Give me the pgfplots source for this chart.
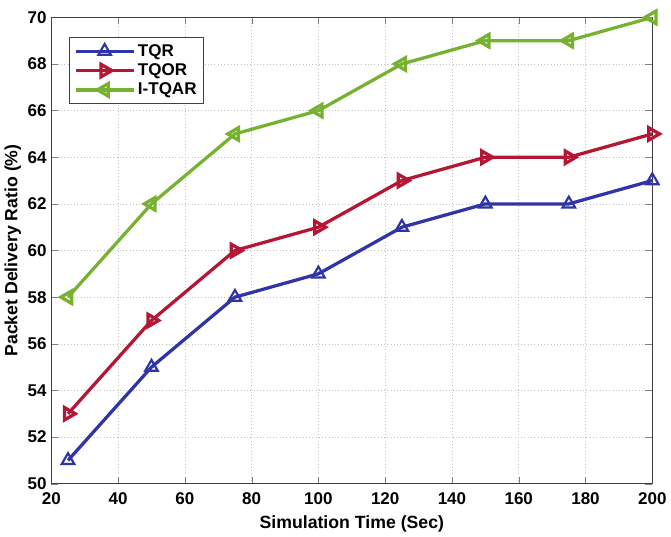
\documentclass[border=0pt]{standalone}
\usepackage{pgfplots}
\pgfplotsset{compat=1.18}
\usepackage{fontspec}
\setmainfont{Liberation Sans}
\definecolor{tqrblue}{RGB}{48,52,168}
\definecolor{tqorred}{RGB}{180,22,52}
\definecolor{itqargreen}{RGB}{118,178,48}
\begin{document}
\begin{tikzpicture}
\begin{axis}[
  scale only axis,
  width=442pt, height=343pt,
  xmin=20, xmax=200, ymin=50, ymax=70,
  xtick={20,40,...,200}, ytick={50,52,...,70},
  xlabel={\bfseries Simulation Time (Sec)},
  ylabel={\bfseries Packet Delivery Ratio (\%)},
  tick label style={font=\bfseries\fontsize{12.5}{14}\selectfont},
  label style={font=\bfseries\fontsize{13}{15}\selectfont},
  xticklabel style={yshift=-3pt},
  /pgf/number format/assume math mode=true,
  tick align=inside,
  xtick pos=both, ytick pos=both,
  major tick length=5pt,
  grid=major,
  major grid style={draw=black!25, dotted},
  axis line style={draw=black!75, line width=1pt},
  xlabel style={yshift=-1pt},
  ylabel style={yshift=-2pt},
  legend style={font=\bfseries\fontsize{12.5}{15}\selectfont, at={(0.03,0.958)}, anchor=north west,
    draw=black!75, line width=0.8pt, cells={anchor=west}, row sep=0pt, inner ysep=3pt},
  legend image code/.code={\draw[mark repeat=2, mark phase=2] plot coordinates {(0cm,0cm) (0.75cm,0cm) (1.5cm,0cm)};},
  every axis plot/.append style={line width=2.4pt, mark size=5.3pt, mark options={solid, fill=white, line width=1.6pt}},
]
\addplot[tqrblue, mark=triangle] coordinates {
  (25,51) (50,55) (75,58) (100,59) (125,61) (150,62) (175,62) (200,63)
};
\addlegendentry{TQR}
\addplot[tqorred, mark=triangle, mark options={rotate=-90}] coordinates {
  (25,53) (50,57) (75,60) (100,61) (125,63) (150,64) (175,64) (200,65)
};
\addlegendentry{TQOR}
\addplot[itqargreen, mark=triangle, mark options={rotate=90}] coordinates {
  (25,58) (50,62) (75,65) (100,66) (125,68) (150,69) (175,69) (200,70)
};
\addlegendentry{I-TQAR}
\end{axis}
\path (current axis.outer north) ++(0,5pt);
\end{tikzpicture}
\end{document}
